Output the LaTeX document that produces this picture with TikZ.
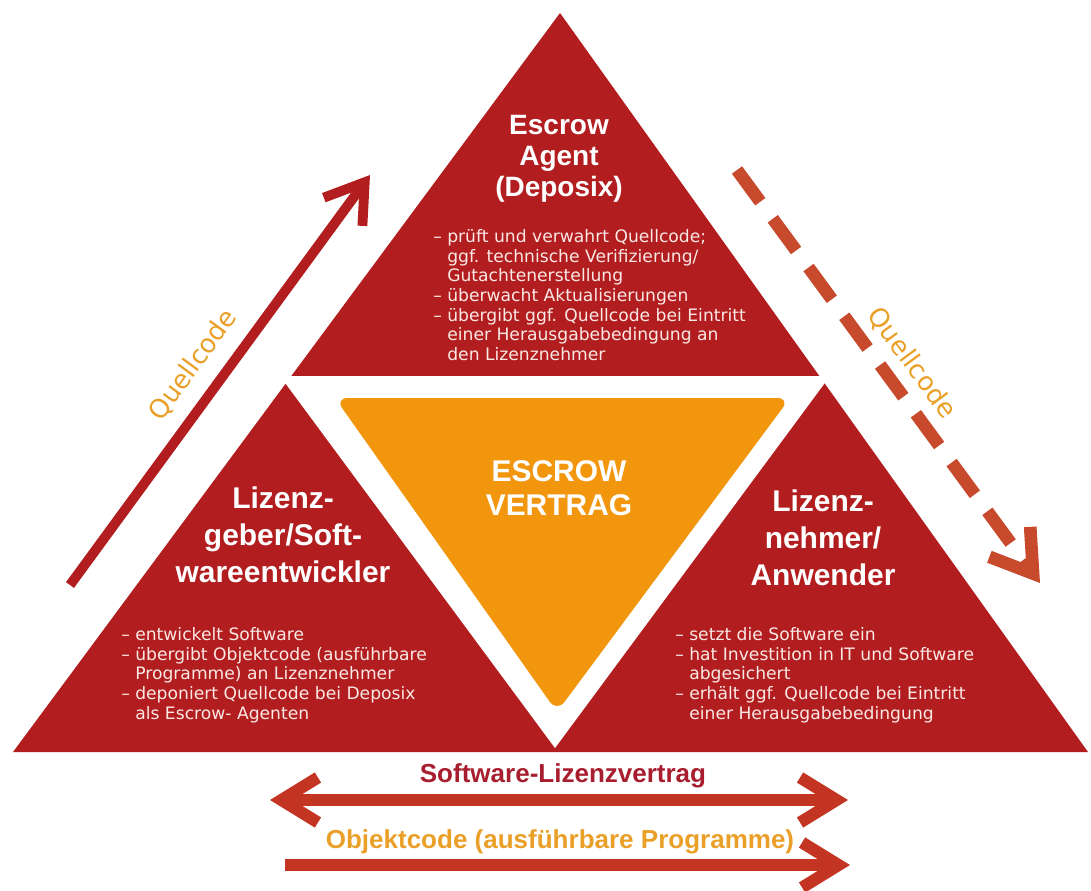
\documentclass[tikz,border=0pt]{standalone}
\usepackage{fontspec}
\setmainfont{Liberation Sans}
\newfontfamily\listfont{DejaVu Sans}
\usepackage{xcolor}
\usepackage{tikz}
\usetikzlibrary{positioning,calc,arrows.meta}

\definecolor{escrowred}{RGB}{178,30,32}
\definecolor{escroworange}{RGB}{242,150,14}
\definecolor{labelorange}{RGB}{234,160,40}
\definecolor{textpink}{RGB}{250,232,228}
\definecolor{dashred}{RGB}{200,74,44}
\definecolor{dealred}{RGB}{196,52,34}
\definecolor{contractred}{RGB}{168,30,46}

\newcommand{\bulletpad}{\hphantom{– }}

\begin{document}
\begin{tikzpicture}[
    x=0.025cm, y=-0.025cm,
    title/.style={text=white, font=\bfseries\fontsize{19.9}{22}\selectfont, align=center, inner sep=0pt},
    sidetitle/.style={title, font=\bfseries\fontsize{21.3}{26.3}\selectfont},
    centertitle/.style={title, font=\bfseries\fontsize{21.3}{24.2}\selectfont},
    duties/.style={text=textpink, font=\listfont\fontsize{12.2}{14}\selectfont, align=left, anchor=west, inner sep=0pt},
    flow/.style={line width=7pt, -{Straight Barb[length=26pt,width=34pt]}},
    dashflow/.style={line width=9pt, dash pattern=on 28pt off 15pt, -{Straight Barb[length=28pt,width=36pt]}},
    deal/.style={line width=8.5pt, dealred},
    flowlabel/.style={text=labelorange, font=\listfont\fontsize{18.5}{20}\selectfont, inner sep=0pt},
    dealtext/.style={font=\bfseries\fontsize{18.5}{20}\selectfont, inner sep=0pt}
]
    \useasboundingbox (0,0) rectangle (1091,890);

    % big triangle and the cut-out in the middle
    \coordinate (apex) at (560,13);
    \coordinate (baseL) at (13,752);
    \coordinate (baseR) at (1088,752);
    \fill[escrowred] (apex) -- (baseL) -- (baseR) -- cycle;
    \fill[white] (280,376) -- (830,376) -- (555,748) -- cycle;
    \fill[escroworange, rounded corners=9pt] (335,398) -- (790,398) -- (557,712) -- cycle;

    % the three parties
    \node[title] (agent) at (559,159) {Escrow\\Agent\\(Deposix)};
    \node[duties] (agenttasks) at (433,295) {– prüft und verwahrt Quellcode;\\\bulletpad ggf. technische Verifizierung/\\\bulletpad Gutachtenerstellung\\– überwacht Aktualisierungen\\– übergibt ggf. Quellcode bei Eintritt\\\bulletpad einer Herausgabebedingung an\\\bulletpad den Lizenznehmer};

    \node[sidetitle] (licensor) at (283,535) {Lizenz-\\geber/Soft-\\wareentwickler};
    \node[duties] (licensortasks) at (121,675) {– entwickelt Software\\– übergibt Objektcode (ausführbare\\\bulletpad Programme) an Lizenznehmer\\– deponiert Quellcode bei Deposix\\\bulletpad als Escrow- Agenten};

    \node[sidetitle] (licensee) at (823,538) {Lizenz-\\nehmer/\\Anwender};
    \node[duties] (licenseetasks) at (675,675) {– setzt die Software ein\\– hat Investition in IT und Software\\\bulletpad abgesichert\\– erhält ggf. Quellcode bei Eintritt\\\bulletpad einer Herausgabebedingung};

    \node[centertitle] (contract) at (559,488) {ESCROW\\VERTRAG};

    % source code flows
    \coordinate (upS) at (70,585);
    \coordinate (upE) at (370,175);
    \draw[flow, escrowred] (upS) -- (upE);
    \node[flowlabel, rotate=53.8] (codeup) at (193,365) {Quellcode};

    \coordinate (downS) at (737,170);
    \coordinate (downE) at (1040,583);
    \draw[dashflow, dashred] (downS) -- (downE);
    \node[flowlabel, rotate=-53.7] (codedown) at (912,363) {Quellcode};

    % licence agreement and object code
    \node[dealtext, text=contractred] (licence) at (563,776) {Software-Lizenzvertrag};
    \coordinate (dealL) at (270,800);
    \coordinate (dealR) at (848,800);
    \draw[deal, {Straight Barb[length=26pt,width=32pt]}-{Straight Barb[length=26pt,width=32pt]}] (dealL) -- (dealR);

    \node[dealtext, text=labelorange] (objcode) at (560,842) {Objektcode (ausführbare Programme)};
    \coordinate (objL) at (285,865);
    \coordinate (objR) at (850,865);
    \draw[deal, -{Straight Barb[length=26pt,width=32pt]}] (objL) -- (objR);
\end{tikzpicture}
\end{document}
